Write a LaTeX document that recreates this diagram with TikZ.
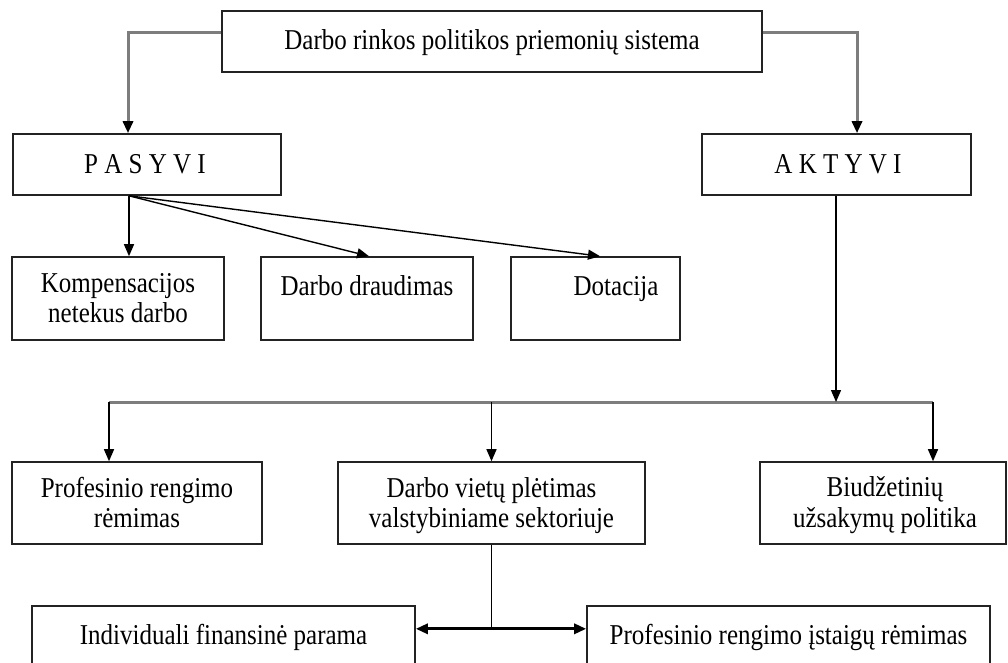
\documentclass[tikz,border=0pt]{standalone}
\usepackage{fontspec}
\setmainfont{Liberation Serif}
\usetikzlibrary{arrows.meta}
\definecolor{boxline}{RGB}{35,35,35}
\definecolor{linegray}{RGB}{125,125,125}
\tikzset{
  box/.style={draw=boxline, line width=1.6pt, inner sep=0pt, fill=white},
  txt/.style={inner sep=0pt, anchor=base, font=\fontsize{25}{30}\selectfont},
  tip/.style={-{Triangle[length=12pt,width=10pt,color=black]}},
  conn/.style={tip, draw=black, line width=1.4pt},
  gline/.style={draw=linegray, line width=3pt},
  garrow/.style={gline, tip},
  twoway/.style={{Triangle[length=12pt,width=10pt]}-{Triangle[length=12pt,width=10pt]}, draw=black, line width=3pt},
}
% a box given by its name, left, top, right and bottom edges
\newcommand{\boxat}[5]{\node[box, minimum width=#4-#2, minimum height=#5-#3] (#1) at ({(#2+#4)/2},{(#3+#5)/2}) {};}
% slightly tall lettering
\newcommand{\tall}[1]{\scalebox{1}[1.15]{#1}}
\begin{document}
\begin{tikzpicture}[x=1pt,y=-1pt]
\useasboundingbox (0,0) rectangle (1008,662);
\clip (0,0) rectangle (1008,662);
\fill[white] (0,0) rectangle (1008,662);

% boxes
\boxat{sys}{222}{11}{762}{72}
\boxat{pas}{13}{134}{281}{195}
\boxat{akt}{702}{134}{971}{195}
\boxat{kom}{12}{257}{224}{340}
\boxat{dra}{261}{257}{473}{340}
\boxat{dot}{511}{257}{680}{340}
\boxat{pro}{12}{462}{262}{544}
\boxat{vie}{338}{462}{645}{544}
\boxat{biu}{760}{462}{1006}{544}
\boxat{ind}{32}{606}{415}{690}
\boxat{ist}{587}{606}{990}{690}

% texts
\node[txt] (sys-t) at (492,49) {\tall{Darbo rinkos politikos priemonių sistema}};
\node[txt] (pas-t) at (145,173) {\tall{P A S Y V I}};
\node[txt] (akt-t) at (838,173) {\tall{A K T Y V I}};
\node[txt] (kom-t1) at (118,292) {\tall{Kompensacijos}};
\node[txt] (kom-t2) at (118,322) {\tall{netekus darbo}};
\node[txt] (dra-t) at (367,295) {\tall{Darbo draudimas}};
\node[txt] (dot-t) at (616,295) {\tall{Dotacija}};
\node[txt] (pro-t1) at (137,497) {\tall{Profesinio rengimo}};
\node[txt] (pro-t2) at (137,527) {\tall{rėmimas}};
\node[txt] (vie-t1) at (491.5,497) {\tall{Darbo vietų plėtimas}};
\node[txt] (vie-t2) at (491.5,527) {\tall{valstybiniame sektoriuje}};
\node[txt] (biu-t1) at (885,496) {\tall{Biudžetinių}};
\node[txt] (biu-t2) at (885,527) {\tall{užsakymų politika}};
\node[txt] (ind-t) at (223.5,644) {\tall{Individuali finansinė parama}};
\node[txt] (ist-t) at (788.5,644) {\tall{Profesinio rengimo įstaigų rėmimas}};

% top level branches
\draw[garrow] ([yshift=9.5pt]sys.west) -| ([xshift=-19pt]pas.north);
\draw[garrow] ([yshift=9.5pt]sys.east) -| ([xshift=20.5pt]akt.north);

% passive measures
\draw[conn] ([xshift=-18pt]pas.south) -- ([xshift=11pt]kom.north);
\draw[conn] ([xshift=-18pt]pas.south) -- ([xshift=2pt]dra.north);
\draw[conn] ([xshift=-18pt]pas.south) -- ([xshift=4.5pt]dot.north);

% active measures
\coordinate (barL) at (109,402);
\coordinate (barR) at (933,402);
\draw[gline] (barL) -- (barR);
\draw[conn] ([xshift=-0.5pt]akt.south) -- ([xshift=-0.5pt]akt.south |- barL);
\draw[conn] (barL) -- (barL |- pro.north);
\draw[conn] (vie.north |- barL) -- (vie.north);
\draw[conn] (barR) -- (barR |- biu.north);

% split below the public sector box
\coordinate (split) at ([yshift=-84pt]vie.south);
\draw[draw=black, line width=1.4pt] (vie.south) -- (split);
\draw[twoway] (split -| ind.east) -- (split -| ist.west);
\end{tikzpicture}
\end{document}
